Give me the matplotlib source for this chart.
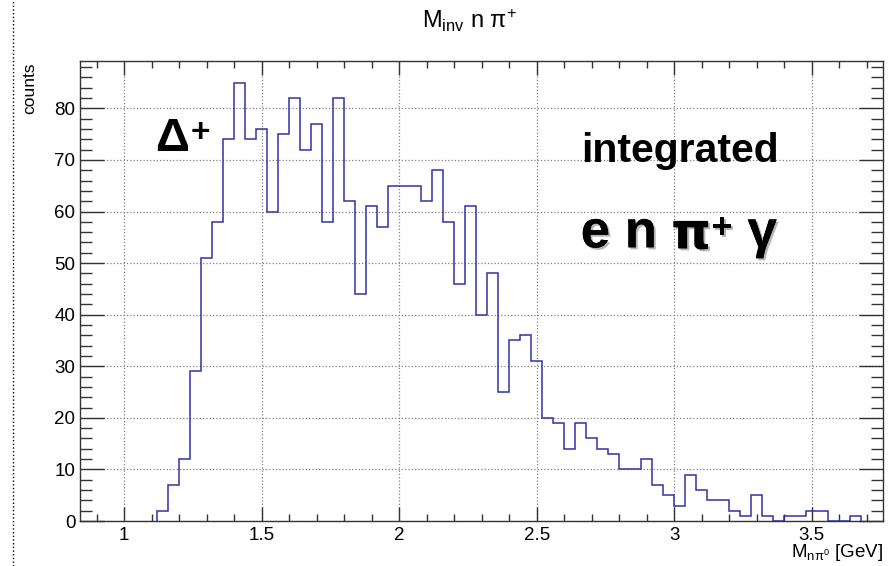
import numpy as np
import matplotlib
matplotlib.use('Agg')
import matplotlib.pyplot as plt
from matplotlib.ticker import MultipleLocator, FuncFormatter
import matplotlib.patheffects as pe
from matplotlib.lines import Line2D

# ---- data ----
bin_lo = 1.12
bin_width = 0.04
counts = [2, 7, 12, 29, 51, 58, 74, 85, 74, 76,
          60, 75, 82, 72, 77, 58, 82, 62, 44, 61,
          57, 65, 65, 65, 62, 68, 58, 46, 61, 40,
          48, 25, 35, 36, 31, 20, 19, 14, 19, 16,
          14, 13, 10, 10, 12, 7, 5, 3, 9, 6,
          4, 4, 2, 1, 5, 1, 0, 1, 1, 2,
          2, 0, 0, 1]
x_range = (0.84, 3.76)
y_max = 89.25

title = r'M$_{\rm inv}$ n $\mathrm{\pi}^{+}$'
xlabel = r'M$_{\mathrm{n\pi}^{0}}$ [GeV]'
ylabel = 'counts'

plt.rcParams['font.family'] = ['Liberation Sans', 'DejaVu Sans']
plt.rcParams['mathtext.fontset'] = 'custom'
plt.rcParams['mathtext.rm'] = 'Liberation Sans'
plt.rcParams['mathtext.it'] = 'Liberation Sans:italic'
plt.rcParams['mathtext.bf'] = 'Liberation Sans:bold'

W, H = 892, 566
fig = plt.figure(figsize=(W / 100, H / 100), dpi=100)
ax = fig.add_axes([80.3 / W, 1 - 521 / H, (883.3 - 80.3) / W, (521 - 60.7) / H])

edges = bin_lo + bin_width * np.arange(len(counts) + 1)
ax.stairs(counts, edges, color='#3232a5', lw=1.1, zorder=3)

ax.set_xlim(*x_range)
ax.set_ylim(0, y_max)
ax.xaxis.set_major_locator(MultipleLocator(0.5))
ax.xaxis.set_minor_locator(MultipleLocator(0.1))
ax.yaxis.set_major_locator(MultipleLocator(10))
ax.yaxis.set_minor_locator(MultipleLocator(2))
fmt = FuncFormatter(lambda v, p: '%g' % round(v, 6))
ax.xaxis.set_major_formatter(fmt)
ax.yaxis.set_major_formatter(fmt)

ax.tick_params(which='both', direction='in', top=True, right=True,
               color='#333333', width=1)
ax.tick_params(axis='x', which='major', length=10, labelsize=13.5, pad=4)
ax.tick_params(axis='x', which='minor', length=5)
ax.tick_params(axis='y', which='major', length=17, labelsize=13.5, pad=3.5)
ax.tick_params(axis='y', which='minor', length=8.5)
for s in ax.spines.values():
    s.set_color('#333333')
    s.set_linewidth(1)
ax.set_axisbelow(True)
ax.grid(True, which='major', ls=':', color='#808080', lw=0.9)

# titles / labels
fig.text(469.5 / W, 1 - 28 / H, title, ha='center', va='baseline', fontsize=17)
fig.text(883.3 / W, 1 - 557 / H, xlabel, ha='right', va='baseline', fontsize=13.5)
fig.text(30 / W, 1 - 62 / H, ylabel, ha='center', va='top', rotation=90, fontsize=12.5)

# left dotted border line
fig.add_artist(Line2D([12.5 / W, 12.5 / W], [0, 1], transform=fig.transFigure,
                      ls=':', color='black', lw=1))

# Delta+ label
d = fig.text(155 / W, 1 - 151 / H, 'Δ', ha='left', va='baseline',
             fontsize=34, fontweight='bold')
ax.annotate('+', xy=(1, 1), xycoords=d, xytext=(1, -18), textcoords='offset points',
            ha='left', va='baseline', fontsize=24, fontweight='bold', annotation_clip=False)

fig.text(580.7 / W, 1 - 161.7 / H, 'integrated', ha='left', va='baseline',
         fontsize=29.5, fontweight='bold')

shadow = [pe.withSimplePatchShadow(offset=(1.5, -1.5), shadow_rgbFace='#999999', alpha=0.7),
          pe.Normal()]
t0 = fig.text(580.7 / W, 1 - 247.3 / H, 'e n ', ha='left', va='baseline',
              fontsize=38, fontweight='bold', path_effects=shadow)
t1 = ax.annotate('π', xy=(1, 0), xycoords=t0, xytext=(0, 0), textcoords='offset points',
                 ha='left', va='bottom', fontsize=36, fontweight='bold',
                 family=['DejaVu Sans'], path_effects=shadow, annotation_clip=False)
t2 = ax.annotate('+', xy=(1, 1), xycoords=t1, xytext=(0.5, -20), textcoords='offset points',
                 ha='left', va='baseline', fontsize=26, fontweight='bold',
                 path_effects=shadow, annotation_clip=False)
ax.annotate(' γ', xy=(1, 0), xycoords=(t2, t0), xytext=(0, 0), textcoords='offset points',
            ha='left', va='bottom', fontsize=38, fontweight='bold',
            path_effects=shadow, annotation_clip=False)

fig.savefig('out.png', dpi=100)
